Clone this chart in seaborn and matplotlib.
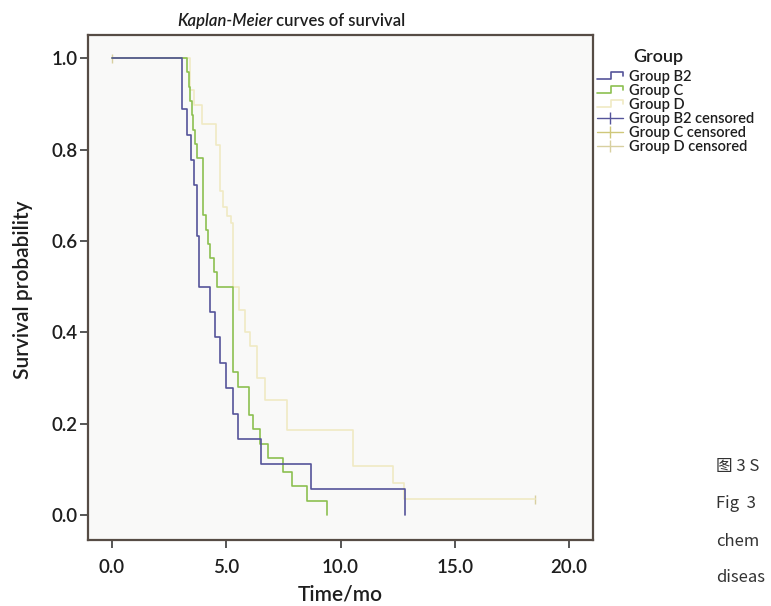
import numpy as np
import pandas as pd
import matplotlib
matplotlib.use("Agg")
import matplotlib.pyplot as plt
import seaborn as sns
from matplotlib.lines import Line2D
from matplotlib.legend_handler import HandlerBase

# ---------------- data ----------------
groups = ["Group B2", "Group C", "Group D"]

b2_time = [0, 3.05, 3.3, 3.45, 3.6, 3.7, 3.82, 4.3, 4.5, 4.73, 5.0, 5.3, 5.5, 6.5, 8.72, 12.82]
b2_surv = [1.0, 0.889, 0.833, 0.778, 0.722, 0.611, 0.5, 0.444, 0.389, 0.333, 0.278, 0.222, 0.167, 0.111, 0.056, 0.0]

c_time = [0, 3.3, 3.36, 3.42, 3.5, 3.56, 3.62, 3.7, 4.0, 4.1, 4.2, 4.3, 4.45, 4.58,
          5.31, 5.53, 6.0, 6.18, 6.48, 6.84, 7.5, 7.86, 8.52, 9.4]
c_surv = [1.0, 0.969, 0.938, 0.906, 0.875, 0.844, 0.813, 0.781, 0.656, 0.625, 0.594, 0.563, 0.531, 0.5,
          0.313, 0.281, 0.219, 0.188, 0.156, 0.125, 0.094, 0.063, 0.031, 0.0]

d_time = [0, 3.4, 3.6, 3.92, 4.55, 4.73, 4.87, 5.05, 5.2, 5.31, 5.55, 5.82, 6.05, 6.33, 6.7, 7.64,
          10.56, 12.3, 12.8, 18.5]
d_surv = [1.0, 0.931, 0.897, 0.856, 0.81, 0.71, 0.675, 0.655, 0.64, 0.5, 0.448, 0.4, 0.37, 0.3, 0.252, 0.186,
          0.106, 0.069, 0.034, 0.034]

cens_group = ["Group D", "Group D"]
cens_time = [0.0, 18.5]
cens_surv = [1.0, 0.034]

x_ticks = [0, 5, 10, 15, 20]
y_ticks = [0.0, 0.2, 0.4, 0.6, 0.8, 1.0]

colors = {"Group B2": "#55549a", "Group C": "#8cc050", "Group D": "#f0eac4"}
cens_colors = {"Group B2": "#55549a", "Group C": "#cfc77a", "Group D": "#d8d0a0"}

# ---------------- frame ----------------
curves = pd.concat([
    pd.DataFrame({"Group": "Group B2", "Time": b2_time, "Surv": b2_surv}),
    pd.DataFrame({"Group": "Group C", "Time": c_time, "Surv": c_surv}),
    pd.DataFrame({"Group": "Group D", "Time": d_time, "Surv": d_surv}),
], ignore_index=True)
cens = pd.DataFrame({"Group": cens_group, "Time": cens_time, "Surv": cens_surv})

sns.set_theme(style="white")
FONT = ["Lato", "DejaVu Sans"]
plt.rcParams["font.family"] = FONT
TXT = "#1e1e1e"

fig = plt.figure(figsize=(7.71, 6.06), dpi=100)
fig.patch.set_facecolor("white")
ax = fig.add_axes([88 / 771, 66 / 606, (593 - 88) / 771, (540 - 35) / 606])
ax.set_facecolor("#f9f9f8")

for g in ["Group D", "Group C", "Group B2"]:
    sub = curves[curves["Group"] == g]
    sns.lineplot(data=sub, x="Time", y="Surv", ax=ax, color=colors[g], lw=1.2,
                 drawstyle="steps-post", estimator=None, sort=False, legend=False)
sns.scatterplot(data=cens, x="Time", y="Surv", hue="Group", palette=cens_colors, ax=ax,
                marker="|", s=45, linewidth=1.0, legend=False)

ax.set_xlim(-1.05, 21.05)
ax.set_ylim(-0.055, 1.051)
ax.set_xticks(x_ticks)
ax.set_xticklabels([f"{v:.1f}" for v in x_ticks])
ax.set_yticks(y_ticks)
ax.set_yticklabels([f"{v:.1f}" for v in y_ticks])
ax.tick_params(axis="both", which="both", direction="out", length=6, width=1.2,
               color="#3a3a3a", labelsize=13.5, left=True, bottom=True)
ax.tick_params(axis="x", pad=8)
ax.tick_params(axis="y", pad=1.5)
for lab in ax.get_xticklabels() + ax.get_yticklabels():
    lab.set_fontweight("semibold")
    lab.set_color(TXT)
for side in ["left", "right", "top", "bottom"]:
    ax.spines[side].set_visible(True)
    ax.spines[side].set_color("#564c45")
    ax.spines[side].set_linewidth(1.6)
ax.set_xlabel("Time/mo", fontsize=15, fontweight="semibold", color=TXT)
ax.set_ylabel("Survival probability", fontsize=15, fontweight="semibold", color=TXT)
ax.xaxis.set_label_coords(0.5, -0.088)
ax.yaxis.set_label_coords(-0.108, 0.495)

# ---------------- title with italic part ----------------
fig.canvas.draw()
r = fig.canvas.get_renderer()
t1 = fig.text(0, 0, "Kaplan-Meier", fontsize=12, style="italic", fontweight="semibold", color=TXT)
t2 = fig.text(0, 0, " curves of survival", fontsize=12, fontweight="semibold", color=TXT)
w1 = t1.get_window_extent(r).width
x0 = 177
yb = 606 - 26
t1.set_position((x0 / 771, yb / 606))
t2.set_position(((x0 + w1) / 771, yb / 606))

# ---------------- legend ----------------
class StepHandler(HandlerBase):
    def create_artists(self, legend, orig_handle, xdescent, ydescent, width, height, fontsize, trans):
        xs = np.array([0.0, 0.55, 0.55, 1.0, 1.0]) * width - xdescent
        ys = np.array([0.15, 0.15, 0.9, 0.9, 0.5]) * height - ydescent
        ln = Line2D(xs, ys, color=orig_handle.get_color(), lw=1.2)
        ln.set_transform(trans)
        return [ln]

handles = [Line2D([], [], color=colors[g]) for g in groups]
handles += [Line2D([], [], color=cens_colors[g], marker="|", markersize=8, lw=1.0) for g in groups]
labels = groups + [g + " censored" for g in groups]
hmap = {h: StepHandler() for h in handles[:3]}
leg = fig.legend(handles, labels, handler_map=hmap, loc="upper left",
                 bbox_to_anchor=(597 / 771, 1 - 70 / 606), frameon=False,
                 prop={"family": FONT, "weight": "semibold", "size": 10.5},
                 handlelength=1.8, handleheight=0.7, handletextpad=0.4,
                 labelspacing=0.0, borderaxespad=0, borderpad=0)
for t in leg.get_texts():
    t.set_color(TXT)
fig.text(633 / 771, 1 - 62 / 606, "Group", fontsize=13, fontweight="semibold", color=TXT,
         va="baseline", ha="left")

# ---------------- cropped caption at right edge ----------------
cap_font = ["Noto Sans CJK SC", "DejaVu Sans"]
for txt, yy in [("图 3 S", 466), ("Fig  3", 503), ("chem", 541), ("diseas", 578)]:
    fig.text(716 / 771, 1 - yy / 606, txt, fontsize=12, family=cap_font, fontweight="medium",
             color="#333333", va="center", ha="left")

fig.savefig("out.png", dpi=100, facecolor="white")
